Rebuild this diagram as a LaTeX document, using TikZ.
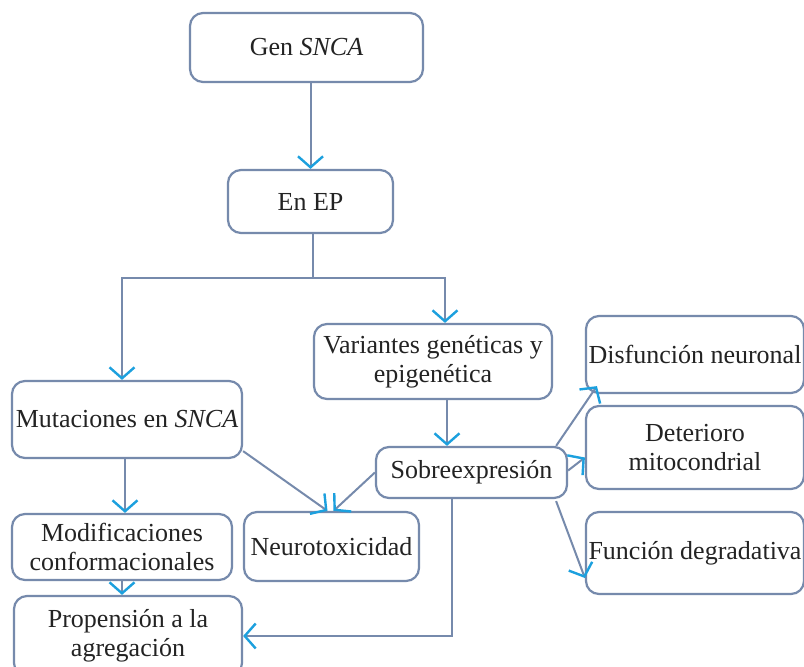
\documentclass[tikz,border=0pt]{standalone}
\usepackage{fontspec}
\setmainfont{Liberation Serif}
\usetikzlibrary{arrows.meta}
\definecolor{fcline}{RGB}{118,138,172}
\definecolor{fcblue}{RGB}{28,160,222}
\definecolor{fctext}{RGB}{35,35,35}

\begin{document}
\begin{tikzpicture}[x=0.5pt,y=-0.5pt,line width=1pt,
  >={Straight Barb[length=5.5pt,width=12.5pt,line width=1.2pt,color=fcblue]},
  caja/.style={draw=fcline,line width=1.1pt,rounded corners=6.5pt,align=center,
    inner sep=1pt,text=fctext,font=\fontsize{13}{14.5}\selectfont}]
  \useasboundingbox (0,0) rectangle (804,666);
  \clip (0,0) rectangle (804,666);
  \fill[white] (0,0) rectangle (804,666);
  % cajas
  \node[caja,minimum width=116.5pt,minimum height=34.5pt] (gen) at (306.5,47.5) {Gen \textit{SNCA}};
  \node[caja,minimum width=82.5pt,minimum height=31.5pt] (enep) at (310.5,201.5) {En EP};
  \node[caja,minimum width=119pt,minimum height=37.5pt] (var) at (433,361.5) {Variantes genéticas y\\epigenética};
  \node[caja,minimum width=115pt,minimum height=38.5pt] (mut) at (127,419.5) {Mutaciones en \textit{SNCA}};
  \node[caja,minimum width=95.5pt,minimum height=25.5pt] (sob) at (471.5,472.5) {Sobreexpresión};
  \node[caja,minimum width=109pt,minimum height=38.5pt] (dis) at (695,354.5) {Disfunción neuronal};
  \node[caja,minimum width=109pt,minimum height=41.5pt] (det) at (695,447.5) {Deterioro\\mitocondrial};
  \node[caja,minimum width=109pt,minimum height=41pt] (fun) at (695,553) {Función degradativa};
  \node[caja,minimum width=87.5pt,minimum height=34.5pt] (neu) at (331.5,546.5) {Neurotoxicidad};
  \node[caja,minimum width=110pt,minimum height=33pt] (mod) at (122,547) {Modificaciones\\conformacionales};
  \node[caja,minimum width=114pt,minimum height=40pt] (pro) at (128,636) {Propensión a la\\agregación};
  \coordinate (ramal) at (313,278);

  % flechas
  \begin{scope}[draw=fcline]
    \draw[->] (enep.north |- gen.south) -- (enep.north);
    \draw (enep.south -| ramal) -- (ramal);
    \draw[->] (ramal) -| ([xshift=-2.5pt]mut.north);
    \draw[->] (ramal) -| ([xshift=6pt]var.north);
    \draw[->] ([xshift=7pt]var.south) -- ([xshift=7pt]var.south |- sob.north);
    \draw[->] ([xshift=-1pt]mut.south) -- ([xshift=-1pt]mut.south |- mod.north);
    \draw[->] (mod.south) -- (mod.south |- pro.north);
    \draw[->] ([yshift=4pt]mut.south east) -- ([xshift=-2pt]neu.north);
    \draw[->] (sob.west) -- ([xshift=1pt]neu.north);
    \draw[->] ([xshift=-6pt]sob.north east) -- ([xshift=6pt,yshift=4pt]dis.south west);
    \draw[->] ([yshift=1pt]sob.east) -- ([yshift=-5pt]det.west);
    \draw[->] ([xshift=-6pt,yshift=-1pt]sob.south east) -- ([yshift=-12.5pt]fun.west);
    \draw[->] ([xshift=-9.75pt]sob.south) |- (pro.east);
  \end{scope}
\end{tikzpicture}
\end{document}
